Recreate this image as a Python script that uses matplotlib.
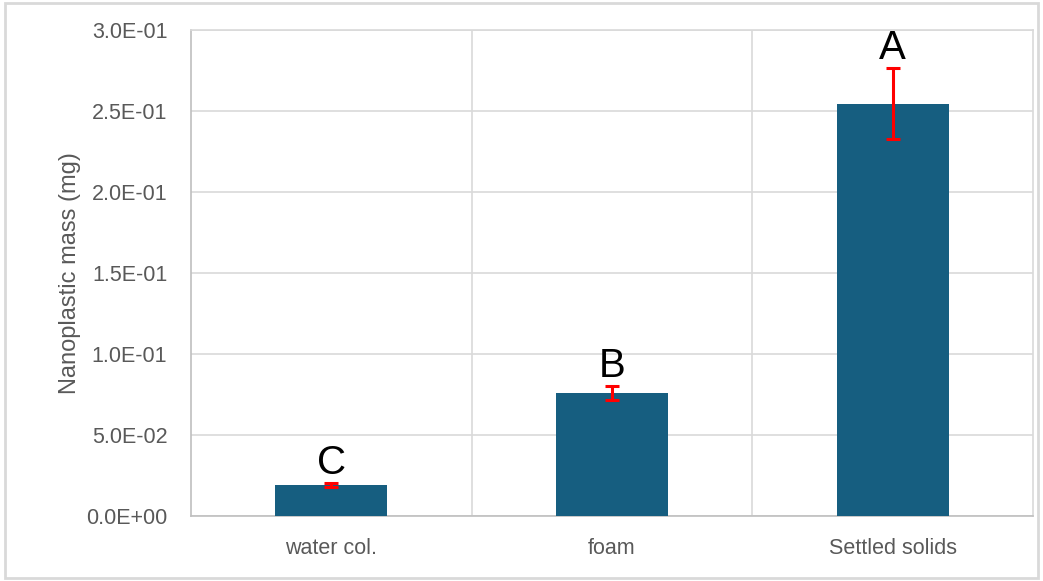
import matplotlib.pyplot as plt
from matplotlib.patches import Rectangle
import numpy as np

categories = ["water col.", "foam", "Settled solids"]
values = [0.0191, 0.0760, 0.2545]
errors = [0.0012, 0.0043, 0.0220]
letters = ["C", "B", "A"]
yticks = [0.0, 0.05, 0.10, 0.15, 0.20, 0.25, 0.30]

plt.rcParams['font.family'] = ['Liberation Sans', 'DejaVu Sans']

fig = plt.figure(figsize=(10.43, 5.81), dpi=100)
# outer chart border
fig.patches.append(Rectangle((0.005, 0.005), 0.99, 0.99, transform=fig.transFigure,
                             fill=False, edgecolor="#d9d9d9", linewidth=2))
ax = fig.add_axes([0.1831, 0.1119, 0.8073, 0.8365])

x = np.arange(len(categories))
ax.bar(x, values, width=0.4, color="#165e80", zorder=3)
ax.errorbar(x, values, yerr=errors, fmt="none", ecolor="red", elinewidth=2.2,
            capsize=5, capthick=2.2, zorder=4)
for xi, v, e, lab in zip(x, values, errors, letters):
    ax.annotate(lab, (xi, v + e), xytext=(0, 1), textcoords="offset points",
                ha="center", va="bottom", fontsize=29, color="black")

ax.set_xlim(-0.5, 2.5)
ax.set_ylim(0, 0.30)
ax.set_yticks(yticks)
ax.set_yticklabels([f"{t:.1E}" for t in yticks], fontsize=15.5, color="#595959")
ax.set_xticks(x)
ax.set_xticklabels(categories, fontsize=15.5, color="#595959")
ax.tick_params(length=0)
ax.tick_params(axis="x", pad=16)
ax.tick_params(axis="y", pad=17)

ax.grid(axis="y", color="#d9d9d9", linewidth=1.2, zorder=0)
for b in [0.5, 1.5]:
    ax.axvline(b, color="#d9d9d9", linewidth=1.2, zorder=0)
for s in ["top", "right"]:
    ax.spines[s].set_color("#d9d9d9")
    ax.spines[s].set_linewidth(1.2)
for s in ["left", "bottom"]:
    ax.spines[s].set_color("#bfbfbf")
    ax.spines[s].set_linewidth(1.2)

ax.set_ylabel("Nanoplastic mass (mg)", fontsize=17, color="#595959", labelpad=4)

plt.savefig("out.png", dpi=100)
